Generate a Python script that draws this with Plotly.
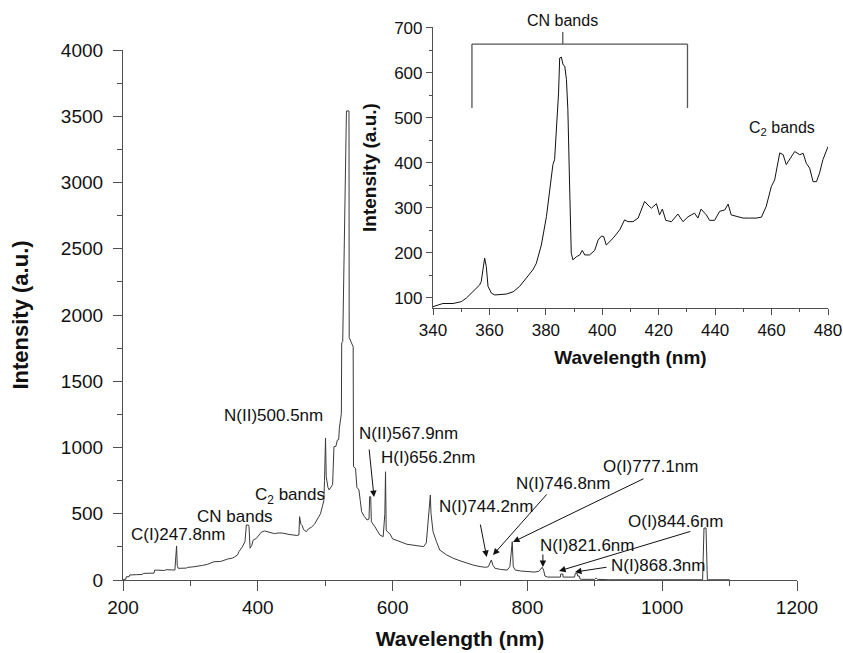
import plotly.graph_objects as go

# ---------------- data ----------------
# Main spectrum (wavelength nm, intensity a.u.)
main_wl = [200, 201, 204, 205, 209, 210, 220, 229, 230, 246, 247, 262, 264, 270, 277, 278, 279.5, 280.5, 282,
           294, 296, 305, 315, 318, 325, 330, 335, 345, 350, 355, 362, 365, 370, 372, 377, 381, 383, 386, 387,
           388.5, 391, 393, 398, 402, 405, 410, 415, 420, 425, 430, 437, 445, 450, 458, 461, 462, 464, 466,
           468, 472, 475, 480, 484, 487, 490, 493, 496, 498, 499, 500.5, 501.5, 504, 506, 508, 511, 513, 516,
           518, 520, 521, 524, 524.5, 526, 531.5, 535.3, 535.6, 541.5, 542, 545, 547, 550, 552, 554, 558, 562,
           565, 566, 567.5, 568.5, 574, 578, 581, 586, 588.5, 589.5, 590.5, 593, 596, 600, 605, 611, 621, 631,
           640, 646, 650, 653, 656, 657, 660, 665, 670, 680, 690, 700, 710, 720, 730, 738, 742, 744, 746.5,
           749, 752, 760, 770, 774, 776.5, 777.5, 779, 782, 790, 799, 810, 817, 819, 822, 824, 826, 830, 849,
           849.5, 852.5, 853, 870, 871, 874, 874.5, 877, 878, 880, 900, 902, 904, 920, 1060, 1062, 1065, 1067,
           1100]
main_int = [0, 5, 5, 25, 25, 38, 40, 42, 50, 52, 75, 72, 78, 75, 75, 150, 257, 110, 88,
            90, 95, 100, 106, 110, 118, 130, 138, 140, 150, 158, 165, 172, 190, 214, 250, 290, 415, 415, 403,
            240, 260, 300, 315, 345, 360, 370, 362, 358, 350, 355, 354, 345, 340, 336, 340, 478, 420, 410,
            380, 365, 385, 400, 420, 450, 470, 500, 560, 600, 750, 1070, 780, 700, 680, 700, 720, 1006, 1010,
            1056, 1060, 1145, 1258, 1790, 1800, 3540, 3540, 1830, 1760, 855, 843, 700, 680, 600, 516, 480, 453,
            460, 629, 629, 440, 400, 370, 340, 327, 500, 817, 377, 360, 350, 310, 302, 290, 270, 264,
            256, 252, 280, 453, 641, 500, 365, 290, 226, 190, 164, 145, 126, 112, 101, 96, 100, 130, 151,
            110, 88, 80, 75, 100, 289, 289, 100, 75, 68, 63, 60, 65, 75, 96, 75, 30, 22, 22,
            45, 45, 22, 22, 50, 50, 30, 30, 8, 5, 5, 15, 5, 2, 2, 392, 392, 2,
            2]

# Inset spectrum (340-480 nm)
inset_wl = [340, 341.8, 343.5, 347.1, 350, 351.8, 354.2, 356.5, 357.1, 357.7, 358.3, 358.9, 359.5, 360.7,
            361.9, 366, 368.4, 370.7, 373.1, 375.4, 376.6, 378.4, 380.2, 381.9, 382.5, 383.1, 383.7, 384.5,
            384.9, 385.5, 386.1, 386.7, 387.3, 387.8, 388.4, 388.8, 389, 389.6, 390.8, 392, 392.9, 393.8,
            395.5, 397.3, 398.5, 399.7, 400.5, 401.4, 403.8, 406.2, 407.9, 409.1, 410.9, 412.7, 413.8, 415,
            416.2, 417.4, 419.2, 420.3, 421.3, 422.5, 424.5, 426.8, 428.6, 430.4, 432.7, 433.9, 435, 436.9,
            438, 439.8, 441.6, 443.4, 444.6, 445.7, 448.1, 449.9, 452.2, 454.6, 456.4, 458.1, 459.9, 461.1,
            462.9, 464.1, 465.2, 466.4, 468.2, 470, 471.2, 472.3, 473.5, 474.7, 475.9, 477, 478.2, 480]
inset_int = [80, 84, 87, 87, 91, 99, 113, 128, 136, 158, 188, 169, 125, 110,
             106, 108, 113, 125, 143, 162, 176, 217, 280, 362, 396, 407, 466, 555,
             633, 635, 618, 615, 585, 518, 355, 243, 199, 184, 191, 195, 205, 195,
             195, 205, 228, 237, 236, 217, 232, 251, 273, 269, 269, 277, 295, 314,
             306, 299, 309, 284, 297, 272, 269, 286, 269, 280, 288, 277, 297, 284,
             272, 272, 292, 295, 308, 284, 280, 277, 277, 277, 279, 303, 347, 362,
             422, 418, 396, 407, 425, 418, 421, 399, 388, 358, 358, 377, 407, 436]

# Ticks
main_x_ticks = [200, 400, 600, 800, 1000, 1200]
main_y_ticks = [0, 500, 1000, 1500, 2000, 2500, 3000, 3500, 4000]
inset_x_ticks = [340, 360, 380, 400, 420, 440, 460, 480]
inset_y_ticks = [100, 200, 300, 400, 500, 600, 700]

# Line labels in the main plot: text and position (x, y)
label_texts = ["C(I)247.8nm", "CN bands", "C<sub>2</sub> bands", "N(II)500.5nm", "N(II)567.9nm",
               "H(I)656.2nm", "N(I)744.2nm", "N(I)746.8nm", "O(I)777.1nm", "N(I)821.6nm",
               "O(I)844.6nm", "N(I)868.3nm"]
label_x = [281.6, 366.2, 447.8, 424, 624.3, 652.5, 738.6, 852.8, 981.9, 888.4, 1019, 993.8]
label_y = [340, 483, 634, 1238, 1102, 928, 558, 725, 860, 264, 445, 106]
# Arrows (tail -> head) for the labels that have them
arrow_tail_x = [565, 729.7, 830.6, 974.5, 823, 1044, 919.6]
arrow_tail_y = [996, 430, 657, 770, 204, 370, 98]
arrow_head_x = [572.4, 739.6, 749, 778.6, 823, 847, 870.6]
arrow_head_y = [626, 174, 189, 287, 98, 68, 60]

# Inset labels (CN label sits just above the top of the inset axis)
inset_label_texts = ["CN bands", "C<sub>2</sub> bands"]
inset_label_x = [386, 463.7]
inset_label_y = [700, 477]
inset_label_anchor = ["bottom", "middle"]
inset_label_shift = [-3, 0]

# CN bracket in inset
cn_left, cn_right, cn_mid = 353.8, 430.2, 386
cn_top, cn_bottom, cn_stub_top = 664, 522, 691

# ---------------- figure ----------------
W, H = 843, 653
FONT = "Arial, Liberation Sans, sans-serif"
AX = "#505050"

def px_x(p):
    return p / W

def px_y(p):
    return 1 - p / H

fig = go.Figure()
fig.add_trace(go.Scatter(x=main_wl, y=main_int, mode="lines",
                         line=dict(color="#3a3a3a", width=1), xaxis="x", yaxis="y",
                         showlegend=False, hoverinfo="skip"))
fig.add_trace(go.Scatter(x=inset_wl, y=inset_int, mode="lines",
                         line=dict(color="#111111", width=1), xaxis="x2", yaxis="y2",
                         showlegend=False, hoverinfo="skip"))

annotations = []
for t, x, y in zip(label_texts, label_x, label_y):
    annotations.append(dict(text=t, x=x, y=y, xref="x", yref="y", showarrow=False,
                            font=dict(family=FONT, size=17, color="#111")))
for tx, ty, hx, hy in zip(arrow_tail_x, arrow_tail_y, arrow_head_x, arrow_head_y):
    annotations.append(dict(text="", x=hx, y=hy, ax=tx, ay=ty, xref="x", yref="y",
                            axref="x", ayref="y", showarrow=True, arrowhead=2,
                            arrowsize=1.3, arrowwidth=1, arrowcolor="#111"))
for t, x, y, anc, sh in zip(inset_label_texts, inset_label_x, inset_label_y,
                            inset_label_anchor, inset_label_shift):
    annotations.append(dict(text=t, x=x, y=y, xref="x2", yref="y2", showarrow=False,
                            yanchor=anc, yshift=sh,
                            font=dict(family=FONT, size=16, color="#111")))

bracket = dict(color="#555", width=1.3)
shapes = [
    dict(type="line", xref="x2", yref="y2", x0=cn_left, x1=cn_right, y0=cn_top, y1=cn_top, line=bracket),
    dict(type="line", xref="x2", yref="y2", x0=cn_left, x1=cn_left, y0=cn_top, y1=cn_bottom, line=bracket),
    dict(type="line", xref="x2", yref="y2", x0=cn_right, x1=cn_right, y0=cn_top, y1=cn_bottom, line=bracket),
    dict(type="line", xref="x2", yref="y2", x0=cn_mid, x1=cn_mid, y0=cn_top, y1=cn_stub_top, line=bracket),
]

fig.update_layout(
    width=W, height=H, margin=dict(l=0, r=0, t=0, b=0, autoexpand=False),
    paper_bgcolor="white", plot_bgcolor="rgba(0,0,0,0)",
    font=dict(family=FONT, color="#111"),
    xaxis=dict(domain=[px_x(123), px_x(797)], range=[200, 1200], anchor="y", automargin=False,
               tickvals=main_x_ticks, ticks="outside", ticklen=10, tickwidth=1, tickcolor=AX,
               minor=dict(dtick=100, tick0=200, ticks="outside", ticklen=5, tickcolor=AX),
               showline=True, linecolor=AX, linewidth=1.2, showgrid=False, zeroline=False,
               tickfont=dict(size=19, family=FONT), ticklabelstandoff=0,
               title=dict(text="<b>Wavelength (nm)</b>", font=dict(size=21, family=FONT), standoff=14)),
    yaxis=dict(domain=[px_y(580), px_y(50)], range=[0, 4000], anchor="x", automargin=False,
               tickvals=main_y_ticks, ticks="outside", ticklen=9, tickwidth=1, tickcolor=AX,
               minor=dict(dtick=250, ticks="outside", ticklen=5, tickcolor=AX),
               showline=True, linecolor=AX, linewidth=1.2, showgrid=False, zeroline=False,
               tickfont=dict(size=19, family=FONT), ticklabelstandoff=6,
               title=dict(text="<b>Intensity (a.u.)</b>", font=dict(size=22, family=FONT), standoff=26)),
    xaxis2=dict(domain=[px_x(433), px_x(828)], range=[340, 480], anchor="y2", automargin=False,
                tickvals=inset_x_ticks, ticks="outside", ticklen=6, tickwidth=1, tickcolor=AX,
                minor=dict(dtick=10, tick0=340, ticks="outside", ticklen=3, tickcolor=AX),
                showline=True, linecolor=AX, linewidth=1.2, showgrid=False, zeroline=False,
                tickfont=dict(size=17, family=FONT), ticklabelstandoff=0,
                title=dict(text="<b>Wavelength (nm)</b>", font=dict(size=19, family=FONT), standoff=12)),
    yaxis2=dict(domain=[px_y(308), px_y(27)], range=[77, 702], anchor="x2", automargin=False,
                tickvals=inset_y_ticks, ticks="outside", ticklen=6, tickwidth=1, tickcolor=AX,
                minor=dict(dtick=50, tick0=100, ticks="outside", ticklen=3, tickcolor=AX),
                showline=True, linecolor=AX, linewidth=1.2, showgrid=False, zeroline=False,
                tickfont=dict(size=17, family=FONT),
                title=dict(text="<b>Intensity (a.u.)</b>", font=dict(size=19, family=FONT), standoff=12)),
    annotations=annotations,
    shapes=shapes,
)

fig.write_html("out.html")
